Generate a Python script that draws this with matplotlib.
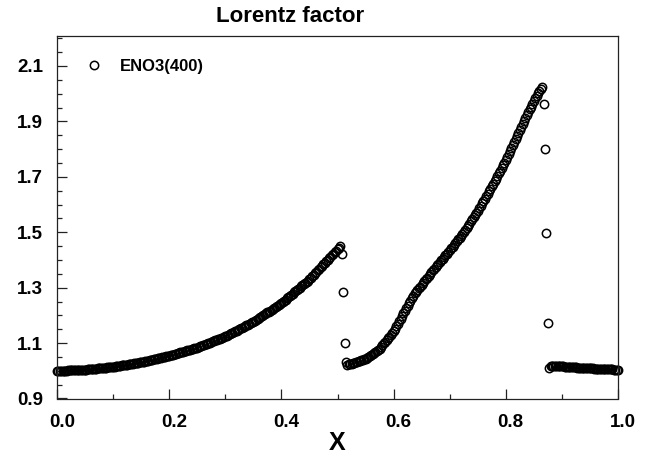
import numpy as np
import matplotlib
matplotlib.use("Agg")
import matplotlib.pyplot as plt
from matplotlib.ticker import MultipleLocator, FixedLocator
from matplotlib.transforms import ScaledTranslation

# ---------------- data (Lorentz factor, ENO3 with 400 cells) ----------------
n_cells = 400

left_branch = [
    1.000, 1.000, 1.000, 1.001, 1.001, 1.001, 1.001, 1.001, 1.002, 1.002,
    1.002, 1.002, 1.002, 1.003, 1.003, 1.003, 1.003, 1.003, 1.004, 1.004,
    1.0040, 1.0045, 1.0050, 1.0055, 1.0060, 1.0065, 1.0070, 1.0075, 1.0080, 1.0085,
    1.0090, 1.0095, 1.0100, 1.0105, 1.0110, 1.0115, 1.0120, 1.0125, 1.0130, 1.0135,
    1.0140, 1.0149, 1.0157, 1.0166, 1.0174, 1.0183, 1.0191, 1.0200, 1.0208, 1.0217,
    1.0225, 1.0234, 1.0242, 1.0251, 1.0259, 1.0268, 1.0276, 1.0285, 1.0293, 1.0302,
    1.0310, 1.0322, 1.0333, 1.0345, 1.0356, 1.0368, 1.0379, 1.0391, 1.0402, 1.0414,
    1.0425, 1.0437, 1.0448, 1.0460, 1.0471, 1.0483, 1.0494, 1.0506, 1.0517, 1.0529,
    1.0540, 1.0555, 1.0570, 1.0585, 1.0600, 1.0615, 1.0630, 1.0645, 1.0660, 1.0675,
    1.0690, 1.0705, 1.0720, 1.0735, 1.0750, 1.0765, 1.0780, 1.0795, 1.0810, 1.0825,
    1.084, 1.086, 1.088, 1.090, 1.092, 1.094, 1.096, 1.098, 1.100, 1.102,
    1.104, 1.106, 1.108, 1.110, 1.112, 1.114, 1.116, 1.118, 1.120, 1.122,
    1.1240, 1.1267, 1.1293, 1.1320, 1.1346, 1.1373, 1.1399, 1.1426, 1.1452, 1.1479,
    1.1505, 1.1532, 1.1558, 1.1585, 1.1611, 1.1638, 1.1664, 1.1691, 1.1717, 1.1744,
    1.1770, 1.1804, 1.1837, 1.1871, 1.1904, 1.1938, 1.1971, 1.2005, 1.2038, 1.2072,
    1.2105, 1.2139, 1.2172, 1.2206, 1.2239, 1.2273, 1.2306, 1.2340, 1.2373, 1.2407,
    1.2440, 1.2483, 1.2526, 1.2569, 1.2612, 1.2655, 1.2698, 1.2741, 1.2784, 1.2827,
    1.2870, 1.2913, 1.2956, 1.2999, 1.3042, 1.3085, 1.3128, 1.3171, 1.3214, 1.3257,
    1.3300, 1.3354, 1.3408, 1.3462, 1.3516, 1.3570, 1.3624, 1.3678, 1.3732, 1.3786,
    1.3840, 1.3894, 1.3948, 1.4002, 1.4056, 1.4110, 1.4164, 1.4218, 1.4272, 1.4326,
    1.438, 1.444, 1.450,
]

shock1_drop = [1.422, 1.284, 1.099, 1.033]

middle_branch = [
    1.021, 1.023, 1.0245,
    1.0260, 1.0277, 1.0294, 1.0311, 1.0328, 1.0345, 1.0362, 1.0379, 1.0396, 1.0413,
    1.0430, 1.0467, 1.0504, 1.0541, 1.0578, 1.0615, 1.0652, 1.0689, 1.0726, 1.0763,
    1.0800, 1.0862, 1.0924, 1.0986, 1.1048, 1.1110, 1.1172, 1.1234, 1.1296, 1.1358,
    1.1420, 1.1513, 1.1606, 1.1699, 1.1792, 1.1885, 1.1978, 1.2071, 1.2164, 1.2257,
    1.235, 1.244, 1.253, 1.262, 1.271,
    1.280, 1.286, 1.292, 1.298, 1.304,
    1.3100, 1.3165, 1.3230, 1.3295, 1.3360, 1.3425, 1.3490, 1.3555, 1.3620, 1.3685,
    1.375, 1.381, 1.387, 1.393, 1.399, 1.405, 1.411, 1.417, 1.423, 1.429,
    1.4350, 1.4415, 1.4480, 1.4545, 1.4610, 1.4675, 1.4740, 1.4805, 1.4870, 1.4935,
    1.5000, 1.5078, 1.5156, 1.5234, 1.5312, 1.5390, 1.5468, 1.5546, 1.5624, 1.5702,
    1.5780, 1.5867, 1.5954, 1.6041, 1.6128, 1.6215, 1.6302, 1.6389, 1.6476, 1.6563,
    1.6650, 1.6745, 1.6840, 1.6935, 1.7030, 1.7125, 1.7220, 1.7315, 1.7410, 1.7505,
    1.7600, 1.7708, 1.7816, 1.7924, 1.8032, 1.8140, 1.8248, 1.8356, 1.8464, 1.8572,
    1.8680, 1.8787, 1.8894, 1.9001, 1.9108, 1.9215, 1.9322, 1.9429, 1.9536, 1.9643,
    1.975, 1.984, 1.993, 2.002, 2.010, 2.018,
    2.025,
]

shock2_drop = [1.964, 1.800, 1.496, 1.171, 1.011]

tail_branch = [
    1.0190, 1.0186, 1.0183, 1.0179, 1.0175, 1.0171, 1.0168, 1.0164,
    1.0160, 1.0156, 1.0152, 1.0148, 1.0144, 1.0140, 1.0136, 1.0132, 1.0128, 1.0124,
    1.0120, 1.0117, 1.0114, 1.0111, 1.0108, 1.0105, 1.0102, 1.0099, 1.0096, 1.0093,
    1.0090, 1.0087, 1.0084, 1.0081, 1.0078, 1.0075, 1.0072, 1.0069, 1.0066, 1.0063,
    1.0060, 1.0058, 1.0056, 1.0054, 1.0052, 1.0050, 1.0048, 1.0046, 1.0044, 1.0042,
    1.0040,
]

series_label = "ENO3(400)"
x_ticks = [0.0, 0.2, 0.4, 0.6, 0.8, 1.0]
y_ticks = [0.9, 1.1, 1.3, 1.5, 1.7, 1.9, 2.1]

W = np.array(left_branch + shock1_drop + middle_branch + shock2_drop + tail_branch)
x = np.arange(len(W)) / n_cells

# ---------------- figure ----------------
plt.rcParams['font.family'] = ['Liberation Sans', 'DejaVu Sans']
fig = plt.figure(figsize=(6.65, 4.61), dpi=100)
ax = fig.add_axes([57/665, 1 - 398.5/461, (618 - 57)/665, (398.5 - 36)/461])

ax.plot(x, W, linestyle='none', marker='o', markersize=6.0,
        markerfacecolor='none', markeredgecolor='black', markeredgewidth=1.1,
        clip_on=False, label=series_label)

ax.set_xlim(0.0, 1.0)
ax.set_ylim(0.9, 2.208)

ax.xaxis.set_major_locator(FixedLocator(x_ticks))
ax.xaxis.set_minor_locator(MultipleLocator(0.1))
ax.yaxis.set_major_locator(FixedLocator(y_ticks))
ax.yaxis.set_minor_locator(MultipleLocator(0.05))
ax.set_xticklabels([f"{v:.1f}" for v in x_ticks])
ax.set_yticklabels([f"{v:.1f}" for v in y_ticks])

ax.tick_params(which='both', direction='in', top=False, right=False,
               width=0.9, color='#222222')
ax.tick_params(which='major', length=7, labelsize=13.5)
ax.tick_params(axis='x', which='major', pad=11)
ax.tick_params(axis='y', which='major', pad=10)
ax.tick_params(which='minor', length=3.5)
shift = ScaledTranslation(5/100, 0, fig.dpi_scale_trans)
for lab in ax.get_xticklabels():
    lab.set_fontweight('bold')
    lab.set_transform(lab.get_transform() + shift)
for lab in ax.get_yticklabels():
    lab.set_fontweight('bold')

for sp in ax.spines.values():
    sp.set_linewidth(0.9)
    sp.set_color('#222222')

ax.set_xlabel("X", fontsize=18, fontweight='bold', labelpad=0)
fig.text(290/665, 1 - 16/461, "Lorentz factor", ha='center', va='center',
         fontsize=16, fontweight='bold')

leg = ax.legend(loc='upper left', bbox_to_anchor=(0.04, 0.955), frameon=False,
                handlelength=1.0, handletextpad=1.0, borderaxespad=0,
                prop={'weight': 'bold', 'size': 12})

fig.savefig("out.png", dpi=100)
